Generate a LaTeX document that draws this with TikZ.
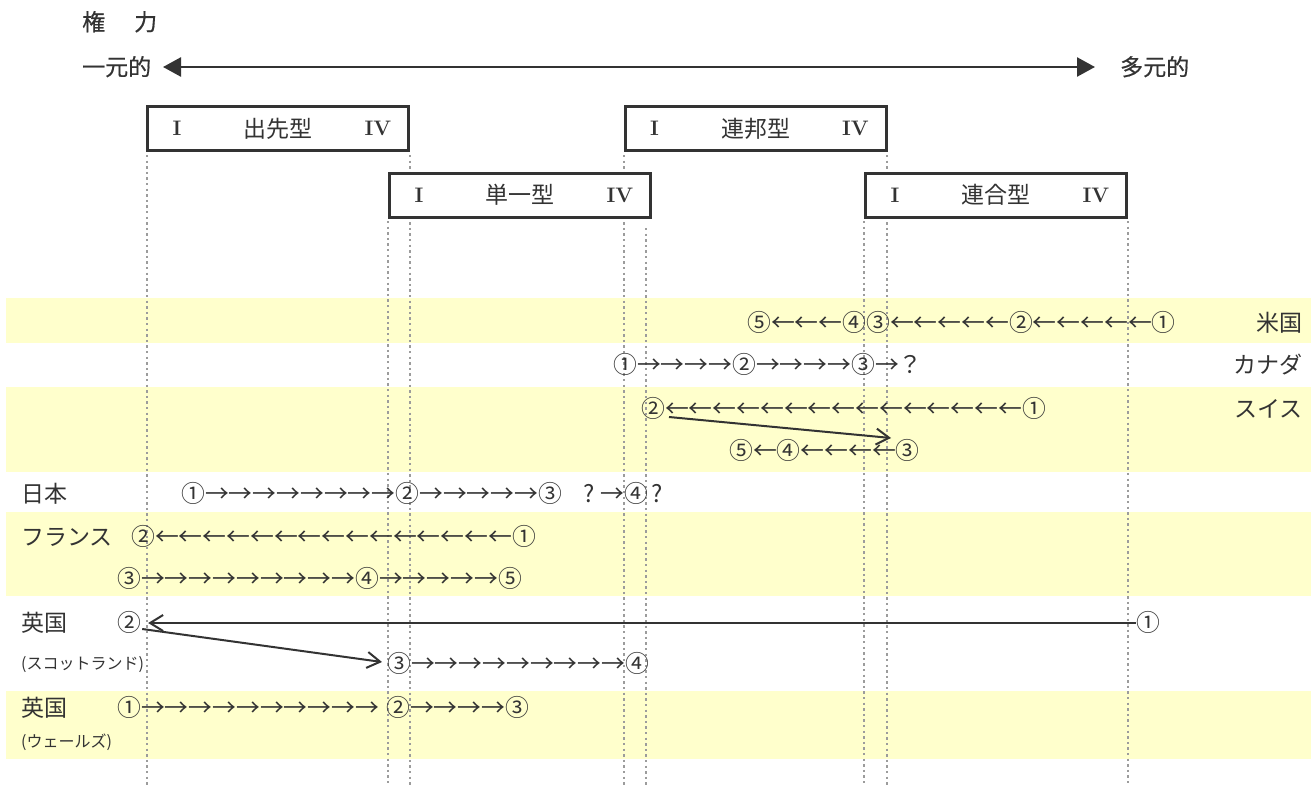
\documentclass[tikz,border=0pt]{standalone}
\usepackage{fontspec}
\newfontfamily\jp{Noto Sans CJK JP}
\newfontfamily\jph[FakeBold=0.6]{Noto Sans CJK JP}
\usetikzlibrary{arrows.meta}
\definecolor{ink}{HTML}{333333}
\definecolor{bandc}{HTML}{FFFFCC}
\definecolor{guidec}{HTML}{9C9C9C}
\tikzset{
  guide/.style={draw=guidec, line width=2.4pt, dash pattern=on 2.4pt off 3.2pt},
  tbox/.style={draw=ink, line width=3pt, fill=white, outer sep=0pt, inner sep=0pt,
    minimum width=261pt, minimum height=44pt, text=ink, font=\jp\fontsize{23}{26}\selectfont},
  roman/.style={inner sep=0pt, text=ink, font=\fontsize{21}{24}\selectfont\bfseries},
  chain/.style={anchor=west, inner sep=0pt, text=ink, text height=20pt, text depth=3pt,
    font=\jp\fontsize{23.8}{28}\selectfont},
  lab/.style={anchor=west, inner sep=0pt, text=ink, text height=20pt, text depth=3pt,
    font=\jp\fontsize{23}{28}\selectfont},
  rlab/.style={lab, anchor=east},
  small/.style={anchor=west, inner sep=0pt, text=ink, text height=14pt, text depth=3pt,
    font=\jp\fontsize{16}{20}\selectfont},
  head/.style={anchor=west, inner sep=0pt, text=ink, text height=20pt, text depth=3pt,
    font=\jph\fontsize{23}{28}\selectfont},
  conn/.style={draw=ink, line width=2pt, -{Straight Barb[length=13pt,width=16pt,line width=2pt]}},
  axis/.style={draw=ink, line width=2.5pt, {Triangle[length=18pt,width=19pt]}-{Triangle[length=18pt,width=19pt]}},
}
\newcommand\typebox[4]{%
  \node[tbox] (#1) at (#2,#3) {#4};
  \node[roman] at ([xshift=29.5pt]#1.west) {I};
  \node[roman] at ([xshift=-30.5pt]#1.east) {IV};}
\begin{document}
\begin{tikzpicture}[x=1pt,y=-1pt]
\useasboundingbox (0,0) rectangle (1311,787);
% bands
\fill[bandc] (6,298) rectangle (1311,343);
\fill[bandc] (6,387) rectangle (1311,472);
\fill[bandc] (6,512) rectangle (1311,596);
\fill[bandc] (6,691) rectangle (1311,759);
% guides
\foreach \gx in {147,410,624,887} {\draw[guide] (\gx,155) -- (\gx,785);}
\foreach \gx in {388,864,1128} {\draw[guide] (\gx,221) -- (\gx,785);}
\draw[guide] (646,228) -- (646,785);
% header
\node[head] (ken) at (82,22) {権\hspace{29pt}力};
\node[head] (mono) at (82,67) {一元的};
\node[head] (poly) at (1120,67) {多元的};
\coordinate (aL) at (163,67);
\coordinate (aR) at (1095,67);
\draw[axis] (aL) -- (aR);
% type boxes
\typebox{dep}{278}{128.5}{出先型}
\typebox{uni}{520}{195}{単一型}
\typebox{fed}{755.5}{128.5}{連邦型}
\typebox{con}{996}{195}{連合型}
% rows
\node[chain] (us) at (747,323) {⑤←←←④③←←←←←②←←←←←①};
\node[rlab] (usl) at (1303,323) {米国};
\node[chain] (ca) at (613,365) {①→→→→②→→→→③→？};
\node[rlab] (cal) at (1303,365) {カナダ};
\node[chain] (sw1) at (641,409) {②←←←←←←←←←←←←←←←①};
\node[chain] (sw2) at (729,451) {⑤←④←←←←③};
\node[rlab] (swl) at (1303,409) {スイス};
\draw[conn] ([xshift=28pt,yshift=-8pt]sw1.west) -- ([xshift=162pt,yshift=13pt]sw2.west);
\node[lab] (jpl) at (21,494) {日本};
\node[chain] (jp1) at (181,494) {①→→→→→→→→②→→→→→③};
\node[chain] (jp2) at (583,494) {?\hspace{6pt}→④\hspace{3pt}?};
\node[lab] (frl) at (21,537) {フランス};
\node[chain] (fr1) at (131,537) {②←←←←←←←←←←←←←←←①};
\node[chain] (fr2) at (117,579) {③→→→→→→→→→④→→→→→⑤};
\node[lab] (ukl) at (21,623) {英国};
\node[small] (scl) at (21,664) {(スコットランド)};
\node[chain] (uk2) at (117,623) {②};
\node[chain] (uk1) at (1136,623) {①};
\node[chain] (sc) at (387,664) {③→→→→→→→→→④};
\draw[conn] (uk1.west) -- ([xshift=7pt]uk2.east);
\draw[conn] ([xshift=1pt,yshift=-6pt]uk2.east) -- ([xshift=-5pt,yshift=2pt]sc.west);
\node[lab] (wal) at (21,708) {英国};
\node[small] (wasl) at (21,742) {(ウェールズ)};
\node[chain] (wa1) at (117,708) {①→→→→→→→→→→};
\node[chain] (wa2) at (386,708) {②→→→→③};
\end{tikzpicture}
\end{document}
